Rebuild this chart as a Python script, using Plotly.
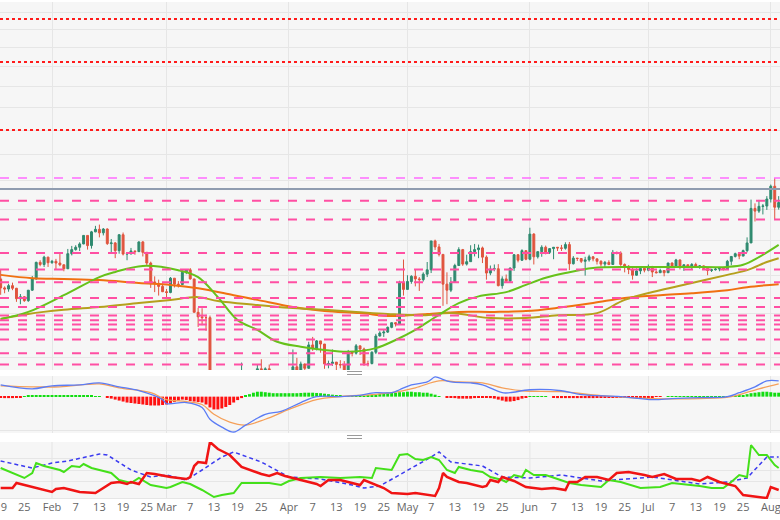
import pandas as pd
import plotly.graph_objects as go

START = "2020-01-19"

close = [8660, 8630, 8720, 8650, 8380, 8430, 8330, 8600, 8900, 9360, 9300, 9510, 9350,
         9390, 9340, 9290, 9180, 9610, 9730, 9800, 9900, 10160, 9850, 10270, 10350, 10240, 10360, 9910, 9930, 9700,
         10180, 9600, 9610, 9690, 9670, 9960, 9650, 9340, 8820, 8780, 8700, 8560,
         8540, 8920, 8760, 8750, 9080, 9150, 8900, 8040, 7930, 7910, 7910, 4970, 5560, 5200, 5390, 5010,
         5330, 5400, 6190, 6200, 6190, 5830, 6460, 6770, 6730, 6770, 6370, 6250, 5880, 6390, 6440,
         6640, 6810, 6740, 6870, 6780, 7280, 7200, 7370, 7300, 6870, 6880, 6910, 6860, 6850, 6640,
         7120, 7100, 7260, 7190, 6880, 6880, 7120, 7480, 7550, 7570, 7680, 7790, 7760, 8800, 8620,
         8830, 8970, 8900, 8880, 9030, 9150, 9990, 9810, 9590, 8760, 8600, 8810, 9270, 9730, 9310,
         9380, 9670, 9730, 9780, 9510, 9060, 9170, 9180, 8720, 8900, 8840, 9200, 9580, 9420, 9700, 9450,
         10200, 9520, 9670, 9800, 9650, 9760, 9800, 9780, 9770, 9880, 9320, 9480, 9470, 9390, 9430,
         9520, 9460, 9390, 9310, 9360, 9300, 9650, 9630, 9300, 9250, 9160, 9000, 9120, 9190, 9140,
         9230, 9090, 9070, 9130, 9070, 9340, 9250, 9430, 9240, 9290, 9240, 9300, 9240, 9260, 9190,
         9130, 9150, 9170, 9210, 9160, 9390, 9530, 9610, 9540, 9700, 9930, 11030, 10940, 11100, 11110, 11350,
         11800, 11070, 11230]
high = [9160, 8700, 8770, 8800, 8660, 8500, 8440, 8600, 8980, 9380, 9420, 9550, 9520,
        9430, 9460, 9600, 9300, 9750, 9840, 9860, 9950, 10170, 10160, 10300, 10460, 10500, 10390, 10380, 10050, 9960,
        10200, 10250, 9640, 9780, 9700, 9980, 9990, 9660, 9380, 8970, 8880, 8780,
        8630, 8950, 8920, 8840, 9150, 9170, 9200, 8900, 8150, 8140, 7980, 7960, 5940, 5640, 5880, 5370,
        5550, 5420, 6390, 6900, 6430, 6390, 6600, 6850, 6970, 6800, 6860, 6380, 6260, 6600, 6520,
        6740, 7180, 7000, 6920, 6880, 7350, 7460, 7390, 7370, 7300, 6940, 7180, 6910, 6950, 6930,
        7170, 7150, 7300, 7260, 7220, 6940, 7140, 7530, 7590, 7630, 7700, 7790, 7800, 8850, 9440,
        9000, 9000, 9170, 8950, 9080, 9370, 9990, 10030, 9900, 9590, 9080, 8950, 9320, 9800, 9750,
        9580, 9860, 9900, 9880, 9820, 9560, 9270, 9300, 9310, 8970, 9020, 9210, 9600, 9600, 9740, 9700,
        10400, 10230, 9680, 9860, 9850, 9770, 9800, 9800, 9870, 9950, 9960, 9540, 9490, 9480, 9520,
        9580, 9540, 9470, 9420, 9400, 9420, 9720, 9670, 9680, 9330, 9280, 9200, 9190, 9230, 9200,
        9300, 9260, 9130, 9180, 9140, 9350, 9360, 9460, 9440, 9310, 9300, 9340, 9350, 9280, 9270,
        9200, 9180, 9200, 9230, 9220, 9430, 9540, 9640, 9640, 9730, 10100, 11330, 11200, 11320, 11180, 11450,
        11860, 12100, 11450]
low = [8480, 8520, 8560, 8600, 8300, 8240, 8300, 8300, 8580, 8880, 9250, 9230, 9230,
       9320, 9170, 9250, 9110, 9170, 9560, 9700, 9690, 9890, 9730, 9760, 10260, 10100, 10160, 9870, 9640, 9480,
       9610, 9560, 9420, 9580, 9580, 9660, 9530, 9280, 8660, 8550, 8460, 8550,
       8420, 8520, 8670, 8670, 8750, 9030, 8880, 8040, 7690, 7730, 7600, 4860, 3870, 5090, 5180, 4560,
       5000, 5070, 5250, 5670, 5860, 5800, 5790, 6450, 6540, 6540, 6300, 6030, 5870, 5870, 6370,
       6170, 6640, 6690, 6700, 6690, 6770, 7150, 7160, 7110, 6770, 6780, 6830, 6600, 6780, 6620,
       6500, 7030, 7070, 7060, 6830, 6820, 6860, 7080, 7470, 7460, 7550, 7660, 7700, 7760, 8460,
       8620, 8770, 8700, 8580, 8830, 8950, 9060, 9720, 9530, 8200, 8240, 8550, 8800, 9260, 9260,
       9270, 9380, 9530, 9480, 9340, 8880, 9000, 9110, 8700, 8640, 8810, 8820, 9120, 9360, 9400, 9420,
       9420, 9300, 9470, 9520, 9590, 9600, 9450, 9690, 9690, 9730, 9140, 9300, 9400, 9340, 8990,
       9380, 9390, 9300, 9240, 9200, 9280, 9290, 9590, 9260, 9080, 9030, 8880, 8990, 9030, 9080,
       9110, 8950, 9050, 9060, 8970, 9060, 9230, 9240, 9160, 9120, 9200, 9160, 9200, 9180, 9170,
       9000, 9090, 9130, 9110, 9130, 9150, 9280, 9500, 9450, 9540, 9650, 9930, 10600, 10880, 10830, 10980,
       11230, 10660, 10990]
first_open = 8900

# moving averages: (day offset from Jan 19, price)
ma_fast_day = [0, 7, 16, 25, 29, 36, 45, 50, 55, 60, 65, 70, 76, 82, 88, 95, 100, 105, 110, 116,
               121, 128, 133, 138, 143, 150, 159, 167, 175, 184, 188, 192, 197]
ma_fast = [7880, 8050, 8470, 8950, 9090, 9260, 9140, 8950, 8420, 7850, 7620, 7350, 7240, 7170, 7130,
           7210, 7390, 7620, 7920, 8270, 8440, 8550, 8740, 8930, 9060, 9200, 9230, 9230, 9230, 9230,
           9290, 9510, 9870]
ma_mid_day = [0, 7, 16, 25, 35, 43, 50, 55, 65, 73, 82, 90, 98, 107, 114, 124, 133, 141, 151, 158,
              167, 175, 184, 189, 194, 197]
ma_mid = [7880, 8000, 8100, 8170, 8270, 8350, 8420, 8320, 8220, 8150, 8100, 8050, 8000, 7970, 8020,
          7900, 7900, 7970, 8020, 8350, 8600, 8790, 9010, 9140, 9370, 9480]
ma_slow_day = [0, 8, 16, 25, 35, 43, 50, 59, 65, 74, 82, 91, 99, 108, 116, 125, 133, 141, 150, 158,
               167, 175, 184, 189, 197]
ma_slow = [9010, 8920, 8900, 8870, 8790, 8740, 8650, 8470, 8350, 8170, 8070, 8020, 7950, 8000, 8050,
           8050, 8070, 8150, 8270, 8400, 8470, 8520, 8600, 8680, 8760]

levels_pink = [11290, 10660, 9630, 9160, 8810, 8400, 8170, 7960, 7850, 7750, 7630, 7400, 7100, 6860]
levels_red = [19630, 17220, 14000]
level_magenta = 12100
level_gray = 11700
price_grid = [7000, 8000, 9000, 10000, 11000, 12000, 13000, 14000, 15000, 16000, 17000, 18000, 19000, 20000]

# MACD
macd_day = [0, 8, 13, 20, 25, 30, 35, 41, 42, 47, 51, 53, 56, 59, 62, 67, 71, 76, 80, 86, 90, 95, 99,
            101, 104, 108, 110, 111, 114, 119, 122, 127, 129, 134, 142, 147, 157, 165, 170, 177, 184,
            187, 191, 194, 197]
macd = [240, 160, 220, 240, 280, 200, 120, -60, -140, -120, -220, -460, -620, -720, -580, -360, -300,
        -120, 0, 0, 20, 80, 80, 140, 240, 300, 400, 380, 300, 280, 240, 80, 80, 140, 120, 40, 0, -60,
        -40, -20, 0, 80, 200, 320, 320]
signal_day = [0, 8, 15, 25, 30, 38, 42, 47, 51, 54, 58, 62, 67, 73, 80, 86, 94, 99, 105, 111, 116, 122,
              127, 132, 142, 152, 165, 177, 185, 192, 197]
signal = [220, 200, 200, 260, 180, 80, -60, -100, -160, -360, -520, -580, -460, -260, -60, 0, 40, 80,
          180, 320, 300, 280, 180, 120, 100, 20, -40, -40, 0, 160, 260]
hist = [-20, -30, -30, -30, -20, -10,
        10, 20, 20, 20, 20, 20, 20, 20, 20, 20, 20, 20, 20, 20, 20, 20, 20, 20, 10, 10,
        0, -10,
        -40, -60, -80, -100, -120, -130, -140, -150,
        -160, -170, -180, -180, -180, -170, -160, -140, -110,
        -80, -60, -70,
        -90, -100, -110, -120,
        -160, -220, -260, -260, -240, -210, -170, -120, -70, -30,
        20, 50, 80, 100, 100, 90, 80, 70, 70, 70, 70, 70,
        70, 70, 75, 80, 80, 80, 75, 70, 60, 50,
        40, 30, 20, 10,
        10, 10, 10, 10, 10, 20, 30, 40,
        60, 70, 80, 80, 80, 90, 90, 100, 100, 90, 90, 80, 80, 60, 40,
        10, 0, -10,
        -20, -30, -40, -40, -40, -40, -30, -20,
        -20, -20, -30, -40,
        -60, -80, -100, -100, -90, -70, -40, -10,
        10, 10, 10, 10, 10, 0,
        -20, -30, -30, -30, -30, -30, -30, -30, -30, -30, -30, -20, -20, -20,
        -10, -10, -10, -10, -10, -10, -10, -10, -10, -10, -10, -10, -5, -5, 0,
        5, 10, 10, 10, 10, 10, 10, 10, 10, 10, 10, 10, 10, 5, 5,
        5, 5, 10,
        20, 30, 50, 70, 80, 90, 100, 100, 90, 80, 80]

# DMI / ADX
adx_day = [0, 8, 13, 17, 25, 27, 33, 38, 42, 47, 51, 56, 59, 66, 73, 81, 89, 92, 96, 101, 109, 111,
           114, 122, 127, 134, 142, 152, 165, 177, 184, 189, 194, 197]
adx = [39, 32, 37, 39, 46, 45, 30, 23, 25, 20, 30, 43, 48, 38, 23, 21, 15, 12, 14, 25, 43, 48, 38, 34,
       23, 22, 25, 19, 23, 16, 18, 22, 43, 43]
pdi_day = [0, 3, 6, 8, 9, 11, 15, 16, 18, 20, 21, 23, 25, 28, 30, 33, 35, 38, 42, 43, 46, 48, 51, 54,
           56, 59, 61, 68, 71, 73, 76, 81, 86, 91, 94, 95, 99, 101, 103, 105, 107, 109, 111, 113, 115,
           116, 119, 122, 124, 127, 128, 130, 132, 133, 135, 138, 141, 144, 147, 152, 154, 157, 162,
           167, 170, 175, 177, 180, 183, 185, 187, 189, 190, 192, 194, 196, 197]
pdi = [32, 27, 22, 27, 37, 34, 30, 28, 34, 33, 36, 32, 30, 27, 20, 17, 22, 15, 12, 13, 18, 16, 10, 3,
       5, 7, 17, 17, 15, 19, 22, 23, 22, 23, 22, 32, 30, 45, 46, 41, 40, 43, 40, 30, 27, 33, 30, 28,
       23, 20, 18, 25, 23, 30, 25, 25, 21, 17, 15, 13, 20, 18, 12, 13, 17, 15, 14, 12, 12, 18, 25, 23,
       55, 45, 45, 35, 32]
mdi_day = [0, 3, 4, 8, 13, 14, 16, 18, 20, 24, 26, 28, 30, 32, 33, 35, 37, 39, 43, 47, 48, 49, 50, 52,
           53, 55, 56, 58, 61, 66, 68, 70, 72, 76, 80, 81, 83, 86, 89, 91, 92, 95, 97, 99, 103, 105,
           108, 110, 111, 112, 113, 116, 118, 122, 123, 124, 126, 127, 130, 133, 137, 140, 143, 144,
           146, 148, 151, 154, 156, 159, 163, 165, 168, 171, 175, 177, 179, 182, 186, 187, 188, 194,
           195, 197]
mdi = [12, 12, 17, 13, 8, 11, 12, 10, 8, 7, 12, 17, 18, 16, 18, 16, 27, 26, 23, 21, 23, 34, 38, 37,
       58, 51, 49, 45, 33, 26, 24, 27, 24, 20, 16, 14, 20, 20, 17, 15, 20, 15, 12, 7, 6, 7, 5, 4, 12,
       27, 23, 18, 17, 13, 14, 20, 18, 23, 19, 13, 11, 12, 10, 18, 18, 23, 23, 20, 27, 28, 25, 23, 26,
       21, 21, 19, 23, 18, 14, 10, 5, 2, 13, 10]

tick_dates = ["2020-01-19", "2020-01-25", "2020-02-01", "2020-02-07", "2020-02-13", "2020-02-19",
              "2020-02-25", "2020-03-01", "2020-03-07", "2020-03-13", "2020-03-19", "2020-03-25",
              "2020-04-01", "2020-04-07", "2020-04-13", "2020-04-19", "2020-04-25", "2020-05-01",
              "2020-05-07", "2020-05-13", "2020-05-19", "2020-05-25", "2020-06-01", "2020-06-07",
              "2020-06-13", "2020-06-19", "2020-06-25", "2020-07-01", "2020-07-07", "2020-07-13",
              "2020-07-19", "2020-07-25", "2020-08-01"]
tick_text = ["19", "25", "Feb", "7", "13", "19", "25", "Mar", "7", "13", "19", "25", "Apr", "7", "13",
             "19", "25", "May", "7", "13", "19", "25", "Jun", "7", "13", "19", "25", "Jul", "7", "13",
             "19", "25", "Aug"]
month_starts = ["2020-02-01", "2020-03-01", "2020-04-01", "2020-05-01", "2020-06-01", "2020-07-01",
                "2020-08-01"]


def days(offsets):
    return pd.Timestamp(START) + pd.to_timedelta(offsets, unit="D")


dates = pd.date_range(START, periods=len(close), freq="D")
opens = [first_open] + close[:-1]
X_RANGE = ["2020-01-18 20:00", "2020-08-03 08:00"]

fig = go.Figure()

fig.add_trace(go.Candlestick(
    x=dates, open=opens, high=high, low=low, close=close,
    increasing=dict(line=dict(color="#2f8a6f", width=1), fillcolor="#2f8a6f"),
    decreasing=dict(line=dict(color="#e0543e", width=1), fillcolor="#e0543e"),
    whiskerwidth=0, xaxis="x", yaxis="y", showlegend=False))

for d, v, c in [(ma_slow_day, ma_slow, "#f07010"), (ma_mid_day, ma_mid, "#b5a01c"),
                (ma_fast_day, ma_fast, "#66c21a")]:
    fig.add_trace(go.Scatter(x=days(d), y=v, mode="lines", line=dict(color=c, width=2, shape="spline"),
                             xaxis="x", yaxis="y", showlegend=False))

# horizontal levels
for lv in levels_pink:
    fig.add_hline(y=lv, line=dict(color="#ff4fa3", width=2, dash="dash"), yref="y")
for lv in levels_red:
    fig.add_hline(y=lv, line=dict(color="#ff1a1a", width=2, dash="dot"), yref="y")
fig.add_hline(y=level_magenta, line=dict(color="#ff6cff", width=1.5, dash="dash"), yref="y")
fig.add_hline(y=level_gray, line=dict(color="#8f9cb0", width=2), yref="y")

# MACD
fig.add_trace(go.Bar(x=dates, y=hist, marker=dict(color=["#11dd11" if h >= 0 else "#ff1111" for h in hist],
                     line=dict(width=0)), xaxis="x2", yaxis="y2", showlegend=False))
fig.add_trace(go.Scatter(x=days(signal_day), y=signal, mode="lines",
                         line=dict(color="#f5a05a", width=1.3, shape="spline"),
                         xaxis="x2", yaxis="y2", showlegend=False))
fig.add_trace(go.Scatter(x=days(macd_day), y=macd, mode="lines",
                         line=dict(color="#5b7cf5", width=1.3, shape="spline"),
                         xaxis="x2", yaxis="y2", showlegend=False))

# DMI
fig.add_trace(go.Scatter(x=days(adx_day), y=adx, mode="lines",
                         line=dict(color="#3a3af0", width=1.5, dash="4px,3px"),
                         xaxis="x3", yaxis="y3", showlegend=False))
fig.add_trace(go.Scatter(x=days(pdi_day), y=pdi, mode="lines", line=dict(color="#44e01a", width=2),
                         xaxis="x3", yaxis="y3", showlegend=False))
fig.add_trace(go.Scatter(x=days(mdi_day), y=mdi, mode="lines", line=dict(color="#f01414", width=2.5),
                         xaxis="x3", yaxis="y3", showlegend=False))

for m in month_starts:
    fig.add_shape(type="line", x0=m, x1=m, y0=0, y1=1, xref="x3", yref="y3 domain",
                  line=dict(color="#e4e4e4", width=1), layer="below")

# panel resize handles
for yy in [373 / 520, 437 / 520]:
    for dy in (-1.5 / 520, 1.5 / 520):
        fig.add_shape(type="line", xref="paper", yref="paper", x0=347 / 780, x1=362 / 780,
                      y0=1 - yy + dy, y1=1 - yy + dy, line=dict(color="#9a9a9a", width=1))

grid = "#e6e6e6"
xcommon = dict(range=X_RANGE, rangeslider=dict(visible=False), zeroline=False, showline=False,
               automargin=False)
fig.update_layout(
    width=780, height=520, margin=dict(l=0, r=0, t=0, b=0, autoexpand=False),
    paper_bgcolor="white", plot_bgcolor="#f6f6f6", bargap=0.25,
    font=dict(family="Open Sans, Arial, sans-serif", color="#666666", size=11),
    xaxis=dict(**xcommon, anchor="y", tickvals=month_starts, showticklabels=False,
               showgrid=True, gridcolor=grid),
    xaxis2=dict(**xcommon, anchor="y2", tickvals=month_starts, showticklabels=False,
                showgrid=True, gridcolor=grid),
    xaxis3=dict(**xcommon, anchor="y3", tickvals=tick_dates, ticktext=tick_text,
                ticklabeloverflow="allow", showgrid=False, ticks="",
                tickfont=dict(size=11, color="#666666")),
    yaxis=dict(domain=[1 - 370 / 520, 1 - 2 / 520], type="log", range=[3.829, 4.3154],
               tickvals=price_grid, showticklabels=False, gridcolor=grid, zeroline=False),
    yaxis2=dict(domain=[1 - 433 / 520, 1 - 376 / 520], range=[-740, 420], tickvals=[-680, 400],
                showticklabels=False, gridcolor=grid, zeroline=False),
    yaxis3=dict(domain=[1 - 499 / 520, 1 - 442 / 520], range=[1, 58], tickvals=[2, 19, 30, 42],
                showticklabels=False, gridcolor=grid, zeroline=False),
)

fig.write_html("out.html", config={"displayModeBar": False},
               post_script="document.body.style.margin='0px';")
